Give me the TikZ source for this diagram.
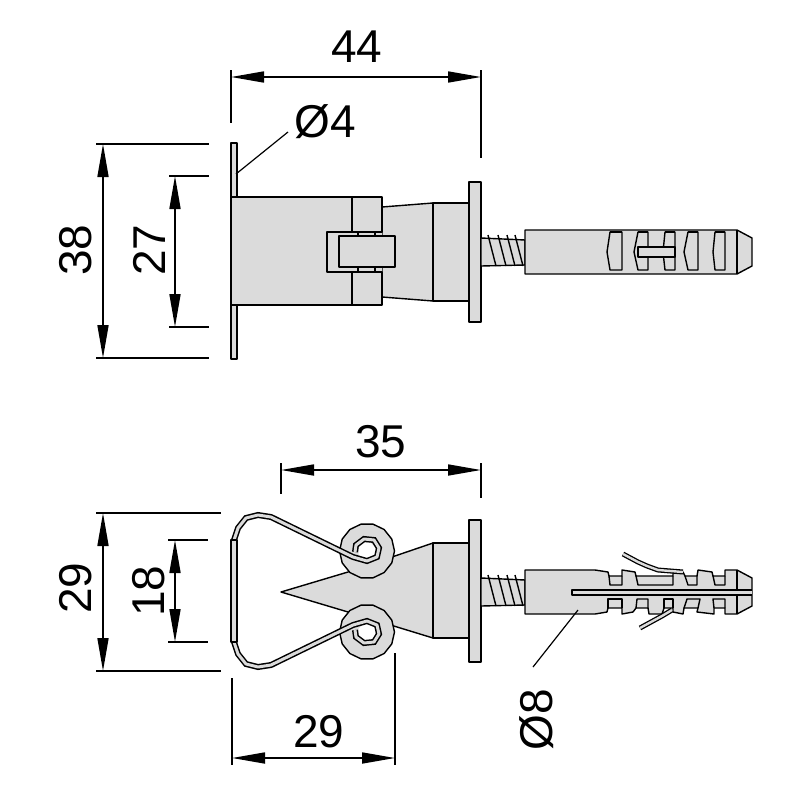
\documentclass[tikz,border=0pt]{standalone}
\usepackage{fontspec}
\setmainfont{Liberation Sans}
\usetikzlibrary{arrows.meta,shapes.geometric}
\definecolor{partgray}{gray}{0.86}
\tikzset{
  part/.style={draw=black,fill=partgray,line width=1.4pt,line join=round},
  heavy/.style={part,line width=1.8pt},
  inner/.style={draw=black,line width=1.4pt,line join=round},
  wire/.style={draw=partgray,line width=3pt,line join=round,preaction={draw=black,line width=6pt}},
  thinwire/.style={draw=partgray,line width=2.4pt,line join=round,preaction={draw=black,line width=5pt}},
  dimarrow/.style={line width=1.7pt,{Triangle[length=33pt,width=11pt]}-{Triangle[length=33pt,width=11pt]}},
  extline/.style={line width=1.4pt},
  leader/.style={line width=1.2pt},
  dimtext/.style={inner sep=0pt,font=\fontsize{46}{46}\selectfont},
  disc/.style={part,regular polygon,regular polygon sides=14,minimum size=55pt,inner sep=0pt},
  hole/.style={draw=none,fill=white,regular polygon,regular polygon sides=8,minimum size=18pt,inner sep=0pt}
}
\begin{document}
\begin{tikzpicture}[x=1pt,y=-1pt]
  \useasboundingbox (0,0) rectangle (800,800);
  % upper view, bracket
  \draw[part] (231,143) rectangle (237,359);
  \draw[part] (382,207) -- (433,203) -- (433,301) -- (382,297) -- cycle;
  \draw[part] (433,203) rectangle (469,301);
  \draw[part] (231,197) rectangle (352,305);
  \draw[part] (352,197) rectangle (382,232);
  \draw[part] (352,272) rectangle (382,305);
  \draw[part,draw=none] (328,233) rectangle (382,271);
  \draw[inner] (382,232) -- (327,232) -- (327,272) -- (382,272);
  \draw[heavy] (339,236) rectangle (395,267);
  \draw[inner] (358,232) -- (358,236) (375,232) -- (375,236);
  \draw[inner] (358,267) -- (358,272) (375,267) -- (375,272);
  \draw[heavy] (469,182) rectangle (481,322);
  % upper view, screw and plug
  \draw[part] (481,238) -- (525,240) -- (525,265) -- (481,266) -- cycle;
  \foreach \xa/\xb in {488/496,498/506,507/515,515/523}
    \draw[inner] (\xa,235) -- (\xb,266);
  \draw[part] (525,230) -- (737,230) -- (752,238) -- (752,266) -- (737,274) -- (525,274) -- cycle;
  \draw[inner] (737,230) -- (737,274);
  \foreach \xa/\xb/\xc in {610/622/607,638/648/634,665/675/663,688/698/684,715/725/713} {
    \draw[inner] (\xa,232) -- (\xb,232) -- (\xb,270) -- (\xa,270) -- (\xc,252) -- cycle;
    \draw[line width=2pt] (\xa,232) -- (\xb,232);
  }
  \draw[part] (638,247) rectangle (675,257);
  % lower view, body
  \draw[part] (281,592) -- (348,572) -- (433,543) -- (433,638) -- (348,612) -- cycle;
  \draw[part] (433,543) rectangle (469,638);
  \draw[heavy] (469,520) rectangle (481,662);
  \node[disc] (eyeup) at (367,551) {};
  \node[disc] (eyedown) at (367,632) {};
  \node[hole] (holeup) at (367,551) {};
  \node[hole] (holedown) at (367,632) {};
  \foreach \m/\d in {1/0,-1/1182} {
    \begin{scope}[shift={(0,\d)},yscale=\m]
      \draw[wire] (234,540) -- (238,528) -- (246,518) -- (258,515) -- (271,517) -- (353,557)
        -- (367,561) -- (377,557) -- (379,548) -- (374,540) -- (364,539) -- (356,545) -- (355,552);
    \end{scope}
  }
  \draw[heavy] (231,540) rectangle (237,642);
  % lower view, screw and plug
  \draw[part] (481,578) -- (525,580) -- (525,605) -- (481,606) -- cycle;
  \foreach \xa/\xb in {488/496,498/506,507/515,515/523}
    \draw[inner] (\xa,575) -- (\xb,606);
  \draw[part] (525,570) -- (595,570) -- (608,572) -- (609,576) -- (622,576) -- (622,570) -- (635,572)
    -- (636,576) -- (673,576) -- (673,571) -- (683,572) -- (685,576) -- (697,576) -- (698,570)
    -- (712,572) -- (713,576) -- (725,576) -- (725,570) -- (737,570) -- (752,578) -- (752,606)
    -- (737,614) -- (725,614) -- (725,608) -- (714,608) -- (714,614) -- (697,612) -- (698,608)
    -- (684,608) -- (683,614) -- (673,612) -- (673,608) -- (664,608) -- (662,614) -- (649,614)
    -- (648,608) -- (636,608) -- (633,612) -- (622,614) -- (622,608) -- (608,608) -- (607,612)
    -- (595,614) -- (525,614) -- cycle;
  \draw[inner] (737,570) -- (737,614);
  \draw[inner] (609,576) -- (610,585) -- (622,585) -- (622,576);
  \draw[inner] (636,576) -- (638,585) -- (673,585) -- (673,576);
  \draw[inner] (685,576) -- (688,585) -- (697,585) -- (697,576);
  \draw[inner] (713,576) -- (715,585) -- (725,585) -- (725,576);
  \draw[inner] (608,608) -- (608,599) -- (622,599) -- (622,608);
  \draw[inner] (636,608) -- (637,599) -- (648,599) -- (648,608);
  \draw[inner] (664,608) -- (664,599) -- (673,599) -- (673,608);
  \draw[inner] (684,608) -- (687,599) -- (700,599) -- (698,608);
  \draw[inner] (714,608) -- (713,599) -- (725,599) -- (725,608);
  \draw[heavy] (752,590) -- (572,590) -- (572,595) -- (752,595);
  \draw[thinwire] (623,554) -- (638,562) -- (647,566) -- (658,570) -- (683,572);
  \draw[thinwire] (640,628) -- (662,616) -- (672,610);
  % dimensions
  \coordinate (w44) at (231,77);
  \coordinate (e44) at (481,77);
  \coordinate (n38) at (103,144);
  \coordinate (s38) at (103,358);
  \coordinate (n27) at (175,176);
  \coordinate (s27) at (175,327);
  \coordinate (w35) at (281,470);
  \coordinate (e35) at (481,470);
  \coordinate (n29) at (103,513);
  \coordinate (s29) at (103,671);
  \coordinate (n18) at (175,540);
  \coordinate (s18) at (175,642);
  \coordinate (w29) at (232,758);
  \coordinate (e29) at (395,758);
  \draw[dimarrow] (w44) -- (e44);
  \draw[dimarrow] (n38) -- (s38);
  \draw[dimarrow] (n27) -- (s27);
  \draw[dimarrow] (w35) -- (e35);
  \draw[dimarrow] (n29) -- (s29);
  \draw[dimarrow] (n18) -- (s18);
  \draw[dimarrow] (w29) -- (e29);
  \begin{scope}[extline]
    \draw (231,70) -- (231,123);
    \draw (481,70) -- (481,158);
    \draw (96,144) -- (209,144);
    \draw (96,358) -- (209,358);
    \draw (169,176) -- (209,176);
    \draw (169,327) -- (209,327);
    \draw (281,463) -- (281,494);
    \draw (481,463) -- (481,498);
    \draw (96,513) -- (221,513);
    \draw (96,671) -- (221,671);
    \draw (168,540) -- (208,540);
    \draw (168,642) -- (208,642);
    \draw (232,678) -- (232,765);
    \draw (395,653) -- (395,765);
  \end{scope}
  \node[dimtext] (t44) at (357,47) {44};
  \node[dimtext] (t4) at (325,122) {Ø4};
  \node[dimtext,rotate=90] (t38) at (76,250) {38};
  \node[dimtext,rotate=90] (t27) at (149,250) {27};
  \node[dimtext] (t35) at (381,442) {35};
  \node[dimtext,rotate=90] (t29a) at (76,588) {29};
  \node[dimtext,rotate=90] (t18) at (149,591) {18};
  \node[dimtext] (t29b) at (319,732) {29};
  \node[dimtext,rotate=90] (t8) at (537,720) {Ø8};
  \coordinate (lead4) at (288,132);
  \coordinate (end4) at (236,174);
  \coordinate (lead8) at (533,667);
  \coordinate (end8) at (578,610);
  \draw[leader] (lead4) -- (end4);
  \draw[leader] (lead8) -- (end8);
\end{tikzpicture}
\end{document}
